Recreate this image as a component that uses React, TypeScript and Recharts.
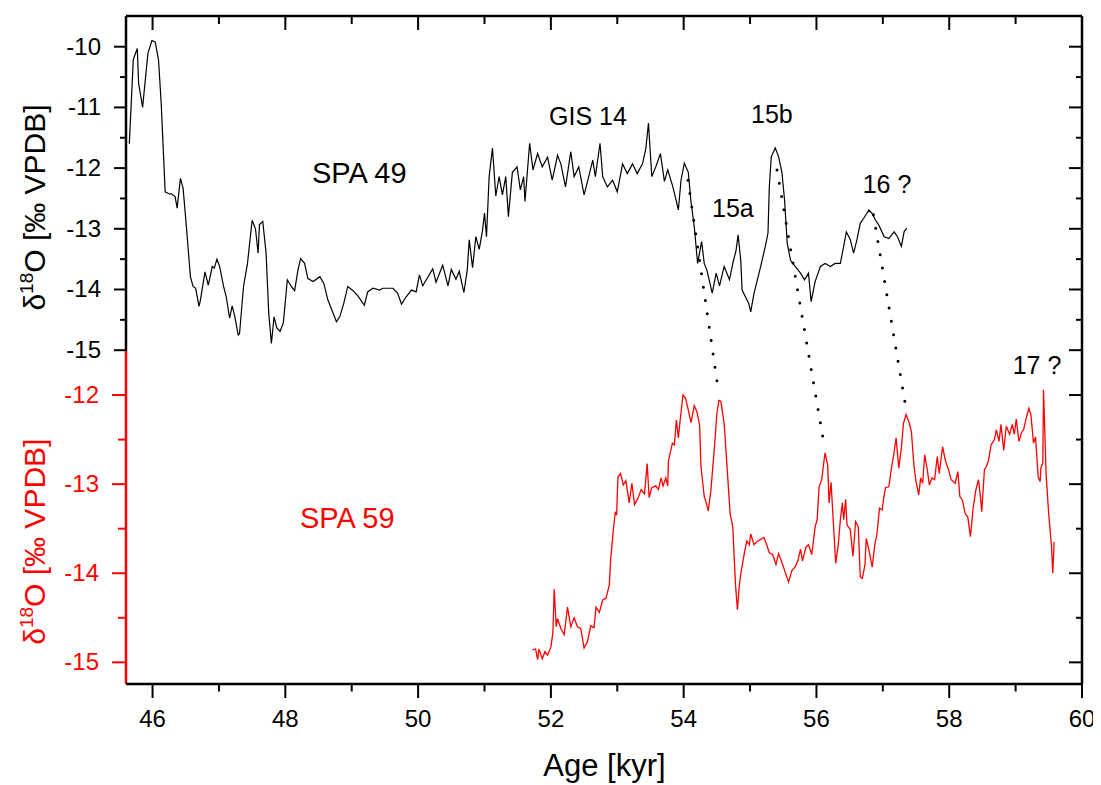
import { ComposedChart, Line, XAxis, YAxis, ReferenceLine } from "recharts";

const FONT = "'Liberation Sans', Arial, Helvetica, sans-serif";

// tick values
const ageTicks = [46, 47, 48, 49, 50, 51, 52, 53, 54, 55, 56, 57, 58, 59, 60];
const spa49Ticks = [-10, -10.5, -11, -11.5, -12, -12.5, -13, -13.5, -14, -14.5, -15];
const spa59Ticks = [-12, -12.5, -13, -13.5, -14, -14.5, -15];

// the two stacked y scales share the plot height
const ageDomain: [number, number] = [45.6, 60];
const spa49Domain: [number, number] = [-20.5, -9.494];
const spa59Domain: [number, number] = [-15.243, -7.746];

// SPA 49 record [age kyr, d18O]
const spa49: [number, number][] = [
  [45.65, -11.6], [45.71, -10.21], [45.77, -10.03], [45.79, -10.6], [45.85, -11.0], [45.93, -10.11],
  [45.99, -9.9], [46.04, -9.92], [46.09, -10.22], [46.13, -10.93], [46.19, -12.39], [46.26, -12.43],
  [46.28, -12.42], [46.34, -12.47], [46.37, -12.66], [46.42, -12.17], [46.46, -12.33], [46.51, -12.97],
  [46.57, -13.79], [46.61, -13.95], [46.65, -13.98], [46.7, -14.28], [46.72, -14.18], [46.79, -13.71],
  [46.84, -13.93], [46.9, -13.62], [46.93, -13.65], [46.97, -13.5], [47.01, -13.62], [47.07, -13.95],
  [47.11, -14.12], [47.16, -14.47], [47.2, -14.27], [47.24, -14.45], [47.29, -14.75], [47.31, -14.73],
  [47.37, -13.95], [47.43, -13.57], [47.5, -12.86], [47.55, -13.0], [47.59, -13.4], [47.61, -12.93],
  [47.66, -12.88], [47.71, -13.4], [47.75, -14.39], [47.79, -14.89], [47.83, -14.45], [47.87, -14.63],
  [47.92, -14.69], [47.97, -14.55], [48.03, -13.84], [48.09, -13.95], [48.14, -14.02], [48.19, -13.68],
  [48.23, -13.49], [48.29, -13.57], [48.34, -13.82], [48.42, -13.87], [48.52, -13.79], [48.58, -13.9],
  [48.64, -14.17], [48.72, -14.39], [48.77, -14.53], [48.82, -14.45], [48.88, -14.23], [48.94, -13.95],
  [49.02, -14.02], [49.09, -14.1], [49.19, -14.26], [49.24, -14.04], [49.32, -13.98], [49.42, -14.01],
  [49.47, -13.98], [49.62, -13.98], [49.69, -14.06], [49.75, -14.24], [49.82, -14.12], [49.9, -14.01],
  [49.97, -14.04], [50.02, -13.76], [50.07, -13.94], [50.15, -13.79], [50.22, -13.66], [50.27, -13.88],
  [50.37, -13.6], [50.45, -13.94], [50.5, -13.67], [50.57, -13.83], [50.62, -13.7], [50.69, -14.05],
  [50.74, -13.68], [50.77, -13.18], [50.82, -13.64], [50.87, -13.13], [50.92, -13.34], [50.97, -13.03],
  [51.0, -12.74], [51.03, -13.13], [51.07, -12.14], [51.12, -11.67], [51.17, -12.46], [51.22, -12.14],
  [51.27, -12.44], [51.32, -12.14], [51.36, -12.8], [51.42, -12.07], [51.49, -11.98], [51.54, -12.36],
  [51.59, -12.14], [51.61, -12.55], [51.68, -11.59], [51.73, -12.03], [51.8, -11.76], [51.87, -11.98],
  [51.95, -11.82], [52.02, -12.2], [52.1, -11.79], [52.15, -11.93], [52.22, -12.31], [52.3, -11.73],
  [52.35, -12.14], [52.42, -11.98], [52.5, -12.44], [52.57, -12.14], [52.63, -11.87], [52.67, -12.14],
  [52.74, -11.59], [52.78, -12.14], [52.85, -12.31], [52.93, -12.2], [53.0, -12.39], [53.08, -11.93],
  [53.15, -12.09], [53.23, -11.93], [53.3, -12.09], [53.38, -11.93], [53.43, -11.68], [53.47, -11.26],
  [53.52, -12.14], [53.58, -11.98], [53.65, -11.76], [53.71, -12.22], [53.76, -12.03], [53.83, -12.28],
  [53.88, -12.5], [53.92, -12.69], [53.96, -12.2], [54.01, -11.92], [54.07, -12.07], [54.11, -12.55],
  [54.16, -12.97], [54.21, -13.57], [54.27, -13.21], [54.31, -13.57], [54.35, -13.68], [54.43, -14.06],
  [54.49, -13.73], [54.54, -13.94], [54.61, -13.62], [54.69, -13.84], [54.74, -13.57], [54.79, -13.35],
  [54.82, -13.1], [54.86, -13.52], [54.88, -14.01], [54.93, -14.12], [54.98, -14.23], [55.01, -14.37],
  [55.06, -14.06], [55.11, -13.84], [55.16, -13.62], [55.23, -13.29], [55.27, -13.07], [55.29, -12.31],
  [55.32, -11.81], [55.38, -11.67], [55.43, -11.81], [55.48, -12.07], [55.52, -12.53], [55.56, -13.24],
  [55.61, -13.52], [55.68, -13.62], [55.76, -13.73], [55.82, -13.84], [55.88, -13.73], [55.92, -14.2],
  [55.98, -13.87], [56.06, -13.62], [56.13, -13.57], [56.21, -13.62], [56.28, -13.57], [56.36, -13.57],
  [56.41, -13.29], [56.45, -13.05], [56.51, -13.18], [56.56, -13.4], [56.61, -13.18], [56.66, -12.91],
  [56.71, -12.83], [56.79, -12.69], [56.84, -12.75], [56.89, -12.86], [56.94, -12.94], [57.02, -13.13],
  [57.09, -13.16], [57.17, -13.05], [57.22, -13.13], [57.28, -13.29], [57.32, -13.05], [57.36, -12.99],
];

// SPA 59 record [age kyr, d18O]
const spa59: [number, number][] = [
  [51.72, -14.86], [51.77, -14.85], [51.8, -14.97], [51.82, -14.85], [51.87, -14.96], [51.91, -14.88],
  [51.95, -14.92], [52.0, -14.83], [52.03, -14.67], [52.05, -14.18], [52.08, -14.6], [52.1, -14.51],
  [52.15, -14.62], [52.2, -14.69], [52.25, -14.38], [52.3, -14.6], [52.35, -14.5], [52.4, -14.6],
  [52.45, -14.62], [52.5, -14.84], [52.55, -14.77], [52.6, -14.59], [52.65, -14.61], [52.68, -14.38],
  [52.73, -14.44], [52.78, -14.3], [52.83, -14.28], [52.88, -14.13], [52.9, -13.85], [52.94, -13.52],
  [52.97, -13.31], [52.99, -13.35], [53.01, -12.92], [53.05, -12.88], [53.09, -13.01], [53.13, -12.96],
  [53.18, -13.21], [53.22, -12.99], [53.26, -13.23], [53.31, -13.16], [53.36, -13.06], [53.41, -13.11],
  [53.45, -12.77], [53.48, -13.15], [53.52, -13.04], [53.58, -13.02], [53.62, -13.06], [53.66, -12.93],
  [53.69, -13.02], [53.73, -12.93], [53.76, -13.02], [53.77, -12.74], [53.83, -12.54], [53.86, -12.56],
  [53.89, -12.28], [53.92, -12.48], [53.95, -12.26], [53.99, -12.0], [54.03, -12.04], [54.07, -12.17],
  [54.11, -12.31], [54.16, -12.12], [54.2, -12.19], [54.24, -12.34], [54.26, -12.8], [54.31, -13.14],
  [54.34, -13.21], [54.37, -13.3], [54.41, -13.07], [54.46, -12.62], [54.5, -12.21], [54.53, -12.06],
  [54.56, -12.07], [54.61, -12.32], [54.65, -12.77], [54.7, -13.33], [54.74, -13.48], [54.78, -14.12],
  [54.81, -14.41], [54.84, -14.12], [54.86, -14.01], [54.91, -13.79], [54.95, -13.64], [54.99, -13.68],
  [55.01, -13.56], [55.06, -13.68], [55.11, -13.64], [55.16, -13.62], [55.21, -13.6], [55.25, -13.68],
  [55.29, -13.77], [55.34, -13.79], [55.39, -13.9], [55.43, -13.78], [55.48, -13.88], [55.53, -13.99],
  [55.58, -14.1], [55.63, -13.97], [55.68, -13.93], [55.72, -13.86], [55.76, -13.73], [55.79, -13.86],
  [55.84, -13.71], [55.88, -13.68], [55.93, -13.79], [55.98, -13.48], [56.01, -13.4], [56.04, -13.03],
  [56.08, -12.95], [56.11, -12.76], [56.13, -12.65], [56.17, -12.79], [56.19, -13.21], [56.22, -12.98],
  [56.24, -13.24], [56.29, -13.89], [56.33, -13.67], [56.36, -13.4], [56.39, -13.21], [56.41, -13.4],
  [56.44, -13.17], [56.46, -13.46], [56.51, -13.51], [56.55, -13.81], [56.59, -13.42], [56.63, -13.48],
  [56.66, -14.04], [56.69, -14.06], [56.73, -13.91], [56.75, -13.61], [56.79, -13.74], [56.84, -13.93],
  [56.88, -13.67], [56.91, -13.57], [56.95, -13.27], [56.99, -13.29], [57.01, -13.17], [57.04, -13.04],
  [57.09, -13.03], [57.13, -12.82], [57.16, -12.69], [57.2, -12.48], [57.24, -12.82], [57.28, -12.59],
  [57.31, -12.32], [57.35, -12.22], [57.4, -12.32], [57.43, -12.41], [57.47, -12.8], [57.5, -12.97],
  [57.54, -13.12], [57.57, -12.93], [57.6, -12.99], [57.63, -12.67], [57.67, -12.84], [57.7, -13.01],
  [57.74, -12.93], [57.78, -12.95], [57.82, -12.69], [57.85, -12.88], [57.9, -12.58], [57.94, -12.73],
  [57.99, -12.84], [58.03, -12.95], [58.09, -12.99], [58.13, -12.86], [58.16, -13.14], [58.2, -13.18],
  [58.24, -13.33], [58.28, -13.37], [58.32, -13.59], [58.36, -13.27], [58.4, -13.07], [58.44, -12.95],
  [58.47, -13.14], [58.49, -13.31], [58.53, -12.84], [58.56, -12.8], [58.59, -12.74], [58.63, -12.56],
  [58.68, -12.5], [58.71, -12.39], [58.75, -12.52], [58.78, -12.33], [58.82, -12.62], [58.86, -12.35],
  [58.91, -12.44], [58.95, -12.33], [58.98, -12.44], [59.01, -12.27], [59.05, -12.52], [59.09, -12.42],
  [59.12, -12.39], [59.16, -12.26], [59.2, -12.15], [59.23, -12.22], [59.27, -12.54], [59.3, -12.47],
  [59.34, -12.92], [59.37, -12.97], [59.38, -12.82], [59.41, -12.76], [59.42, -11.94], [59.46, -12.9],
  [59.5, -13.35], [59.54, -13.69], [59.56, -14.0], [59.58, -13.65],
];

// dotted tie lines: SPA 49 point -> SPA 59 point
const tiePoints = [
  { age49: 54.065, d49: -12.2, age59: 54.517, d59: -11.92 },
  { age49: 55.406, d49: -12.03, age59: 56.114, d59: -12.55 },
  { age49: 56.858, d49: -12.77, age59: 57.349, d59: -12.15 },
];

// labels: [text, x, baseline, size]
const peakLabels: [string, number, number, number][] = [
  ["SPA 49", 304, 174.7, 29],
  ["GIS 14", 541, 117, 25],
  ["15a", 704, 209.3, 25],
  ["15b", 743, 115.3, 25],
  ["16 ?", 854.7, 184.7, 25],
  ["17 ?", 1004.7, 366, 25],
];

const toPoints = (rows: [number, number][]) => rows.map(([age, d18O]) => ({ age, d18O }));

// place a SPA 59 value on the SPA 49 scale (same pixel height)
const on49Scale = (v: number) => {
  const f = (v - spa59Domain[0]) / (spa59Domain[1] - spa59Domain[0]);
  return spa49Domain[0] + f * (spa49Domain[1] - spa49Domain[0]);
};

const isMajor = (v: number) => Math.abs(v - Math.round(v)) < 1e-6;

const LeftTick = (props: any) => {
  const { x, y, payload, color, shift = 0 } = props;
  const ax = x + shift;
  const v = payload.value;
  const major = isMajor(v);
  return (
    <g>
      <line x1={ax - (major ? 13 : 7)} x2={ax} y1={y} y2={y} stroke={color} strokeWidth={2} />
      {major && (
        <text x={ax - 26} y={y + 8} textAnchor="end" fontSize={24} fill={color} fontFamily={FONT}>
          {v}
        </text>
      )}
    </g>
  );
};

const RightTick = (props: any) => {
  const { x, y, payload, shift = 0 } = props;
  const ax = x + shift;
  const major = isMajor(payload.value);
  return <line x1={ax - (major ? 13 : 6)} x2={ax} y1={y} y2={y} stroke="#000" strokeWidth={2} />;
};

const BottomTick = (props: any) => {
  const { x, y, payload } = props;
  const v = payload.value;
  const major = v % 2 === 0;
  return (
    <g>
      <line x1={x} x2={x} y1={y} y2={y + (major ? 14 : 7.5)} stroke="#000" strokeWidth={2} />
      {major && (
        <text x={x} y={y + 43} textAnchor="middle" fontSize={24} fill="#000" fontFamily={FONT}>
          {v}
        </text>
      )}
    </g>
  );
};

const TopTick = (props: any) => {
  const { x, y, payload } = props;
  const major = payload.value % 2 === 0;
  return <line x1={x} x2={x} y1={y} y2={y + (major ? 14 : 8)} stroke="#000" strokeWidth={2} />;
};

export default function App() {
  const spa49Data = toPoints(spa49);
  const spa59Data = toPoints(spa59);

  return (
    <div style={{ position: "relative", width: 1093, height: 777 }}>
      <ComposedChart width={1093} height={777} margin={{ top: 7, right: 17, left: 116, bottom: 71 }}>
        <XAxis
          xAxisId="bottom"
          type="number"
          dataKey="age"
          domain={ageDomain}
          allowDataOverflow
          ticks={ageTicks}
          interval={0}
          height={30}
          tickSize={0}
          tickMargin={0}
          tickLine={false}
          axisLine={{ stroke: "#000", strokeWidth: 2.5 }}
          tick={BottomTick}
        />
        <XAxis
          xAxisId="top"
          orientation="top"
          type="number"
          dataKey="age"
          domain={ageDomain}
          allowDataOverflow
          ticks={ageTicks}
          interval={0}
          height={1}
          tickSize={0}
          tickMargin={0}
          tickLine={false}
          axisLine={{ stroke: "#000", strokeWidth: 2.5 }}
          tick={TopTick}
        />
        <YAxis
          yAxisId="b"
          type="number"
          domain={spa49Domain}
          allowDataOverflow
          ticks={spa49Ticks}
          interval={0}
          width={1}
          tickSize={0}
          tickMargin={0}
          tickLine={false}
          axisLine={false}
          tick={(p: any) => <LeftTick {...p} color="#000" shift={1} />}
        />
        <YAxis
          yAxisId="r"
          type="number"
          domain={spa59Domain}
          allowDataOverflow
          ticks={spa59Ticks}
          interval={0}
          width={1}
          tickSize={0}
          tickMargin={0}
          tickLine={false}
          axisLine={false}
          tick={(p: any) => <LeftTick {...p} color="#ff0000" />}
        />
        <YAxis
          yAxisId="bR"
          orientation="right"
          type="number"
          domain={spa49Domain}
          allowDataOverflow
          ticks={spa49Ticks}
          interval={0}
          width={1}
          tickSize={0}
          tickMargin={0}
          tickLine={false}
          axisLine={false}
          tick={RightTick}
        />
        <YAxis
          yAxisId="rR"
          orientation="right"
          type="number"
          domain={spa59Domain}
          allowDataOverflow
          ticks={spa59Ticks}
          interval={0}
          width={1}
          tickSize={0}
          tickMargin={0}
          tickLine={false}
          axisLine={false}
          tick={(p: any) => <RightTick {...p} shift={-1} />}
        />

        {/* frame: left axis split black / red, right edge */}
        <ReferenceLine
          xAxisId="bottom"
          yAxisId="b"
          segment={[{ x: ageDomain[0], y: spa49Domain[1] }, { x: ageDomain[0], y: -15 }]}
          stroke="#000"
          strokeWidth={2.5}
          ifOverflow="visible"
        />
        <ReferenceLine
          xAxisId="bottom"
          yAxisId="b"
          segment={[{ x: ageDomain[0], y: -15 }, { x: ageDomain[0], y: spa49Domain[0] }]}
          stroke="#ff0000"
          strokeWidth={2.5}
          ifOverflow="visible"
        />
        <ReferenceLine
          xAxisId="bottom"
          yAxisId="b"
          x={ageDomain[1]}
          stroke="#000"
          strokeWidth={2.5}
          ifOverflow="visible"
        />

        {tiePoints.map((t, i) => (
          <ReferenceLine
            key={i}
            xAxisId="bottom"
            yAxisId="b"
            segment={[{ x: t.age49, y: t.d49 }, { x: t.age59, y: on49Scale(t.d59) }]}
            stroke="#000"
            strokeWidth={3}
            strokeDasharray="0 13.5"
            strokeLinecap="round"
            ifOverflow="visible"
          />
        ))}

        <Line
          xAxisId="bottom"
          yAxisId="b"
          data={spa49Data}
          dataKey="d18O"
          stroke="#000"
          strokeWidth={1.2}
          dot={false}
          isAnimationActive={false}
        />
        <Line
          xAxisId="bottom"
          yAxisId="r"
          data={spa59Data}
          dataKey="d18O"
          stroke="#ff0000"
          strokeWidth={1.3}
          dot={false}
          isAnimationActive={false}
        />
      </ComposedChart>

      <svg
        width={1093}
        height={777}
        style={{ position: "absolute", left: 0, top: 0, pointerEvents: "none" }}
        fontFamily={FONT}
      >
        {peakLabels.map(([t, x, y, s]) => (
          <text key={t} x={x} y={y} fontSize={s} fill="#000">
            {t}
          </text>
        ))}
        <text x={292} y={520} fontSize={29} fill="#ff0000">
          SPA 59
        </text>
        <text x={596.5} y={768} fontSize={31} textAnchor="middle" fill="#000">
          Age [kyr]
        </text>
        <text x={37} y={199.5} fontSize={30} textAnchor="middle" fill="#000" transform="rotate(-90 37 199.5)">
          δ<tspan fontSize={19} dy={-12}>18</tspan>
          <tspan dy={12}>O [‰ VPDB]</tspan>
        </text>
        <text x={37} y={533.7} fontSize={30} textAnchor="middle" fill="#ff0000" transform="rotate(-90 37 533.7)">
          δ<tspan fontSize={19} dy={-12}>18</tspan>
          <tspan dy={12}>O [‰ VPDB]</tspan>
        </text>
      </svg>
    </div>
  );
}
